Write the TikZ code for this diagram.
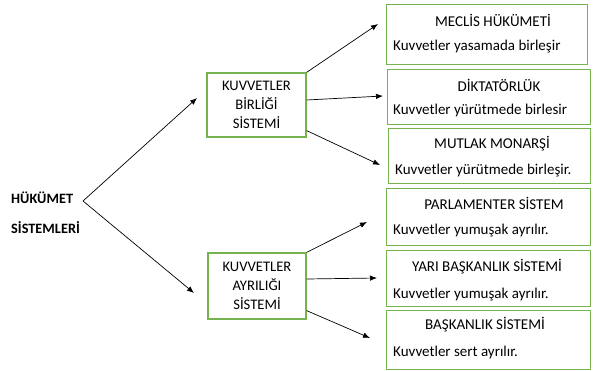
\documentclass[tikz,border=0pt]{standalone}
\usepackage{fontspec}
\setmainfont{Carlito}
\usetikzlibrary{arrows.meta}
\definecolor{boxgreen}{RGB}{118,178,78}
\begin{document}
\begin{tikzpicture}[x=1pt,y=-1pt,
  box/.style={draw=boxgreen, line width=1.2pt, rectangle, inner sep=0pt, anchor=north west},
  ttl/.style={font=\fontsize{15}{18}\selectfont, inner sep=0pt, anchor=center},
  sub/.style={font=\fontsize{15}{18}\selectfont, inner sep=0pt, anchor=west},
  mid/.style={draw=boxgreen, line width=1.2pt, rectangle, font=\fontsize{14.6}{19}\selectfont, align=center, inner sep=0pt},
  lft/.style={font=\bfseries\fontsize{14.3}{16}\selectfont, inner sep=0pt, anchor=west},
  arr/.style={-{Latex[length=7pt,width=5.5pt]}, line width=0.7pt}
]
\useasboundingbox (0,0) rectangle (593,371);
% right boxes
\node[box, minimum width=201pt, minimum height=60pt] (b1) at (386,4) {};
\node[box, minimum width=203pt, minimum height=55pt] (b2) at (387,69) {};
\node[box, minimum width=202pt, minimum height=55pt] (b3) at (388,128) {};
\node[box, minimum width=204pt, minimum height=57pt] (b4) at (386,188) {};
\node[box, minimum width=204pt, minimum height=56pt] (b5) at (386,250) {};
\node[box, minimum width=204pt, minimum height=59pt] (b6) at (386,310) {};
\node[ttl] (t1) at (493,20) {MECLİS HÜKÜMETİ};
\node[sub] (s1) at (393,47) {Kuvvetler yasamada birleşir};
\node[ttl] (t2) at (499,85) {DİKTATÖRLÜK};
\node[sub] (s2) at (393,111) {Kuvvetler yürütmede birlesir};
\node[ttl] (t3) at (492,144) {MUTLAK MONARŞİ};
\node[sub] (s3) at (395,171) {Kuvvetler yürütmede birleşir.};
\node[ttl] (t4) at (494,203) {PARLAMENTER SİSTEM};
\node[sub] (s4) at (393,231) {Kuvvetler yumuşak ayrılır.};
\node[ttl] (t5) at (487,267) {YARI BAŞKANLIK SİSTEMİ};
\node[sub] (s5) at (393,295) {Kuvvetler yumuşak ayrılır.};
\node[ttl] (t6) at (485,325) {BAŞKANLIK SİSTEMİ};
\node[sub] (s6) at (393,352) {Kuvvetler sert ayrılır.};
% middle boxes
\node[mid, minimum width=99pt, minimum height=64pt] (m1) at (256.5,105) {KUVVETLER\\BİRLİĞİ\\SİSTEMİ};
\node[mid, minimum width=98pt, minimum height=66pt] (m2) at (257,286) {\raisebox{2pt}{\parbox{90pt}{\centering KUVVETLER\\AYRILIĞI\\SİSTEMİ}}};
% left
\node[lft] (h1) at (11,198) {HÜKÜMET};
\node[lft] (h2) at (11,228) {SİSTEMLERİ};
% coordinates
\coordinate (hk) at (83,201);
\coordinate (a1) at (197,98);
\coordinate (a2) at (194,293);
\coordinate (c1) at (378,24);
\coordinate (c2) at (383,96);
\coordinate (c3) at (380,165);
\coordinate (d1) at (367,222);
\coordinate (d2) at (377,278);
\coordinate (d3) at (370,338);
% arrows
\draw[arr] (hk) -- (a1);
\draw[arr] (hk) -- (a2);
\draw[arr] (m1.north east) -- (c1);
\draw[arr] ([yshift=5pt]m1.east) -- (c2);
\draw[arr] ([yshift=7pt]m1.south east) -- (c3);
\draw[arr] (m2.north east) -- (d1);
\draw[arr] ([yshift=7pt]m2.east) -- (d2);
\draw[arr] ([yshift=9pt]m2.south east) -- (d3);
\end{tikzpicture}
\end{document}
